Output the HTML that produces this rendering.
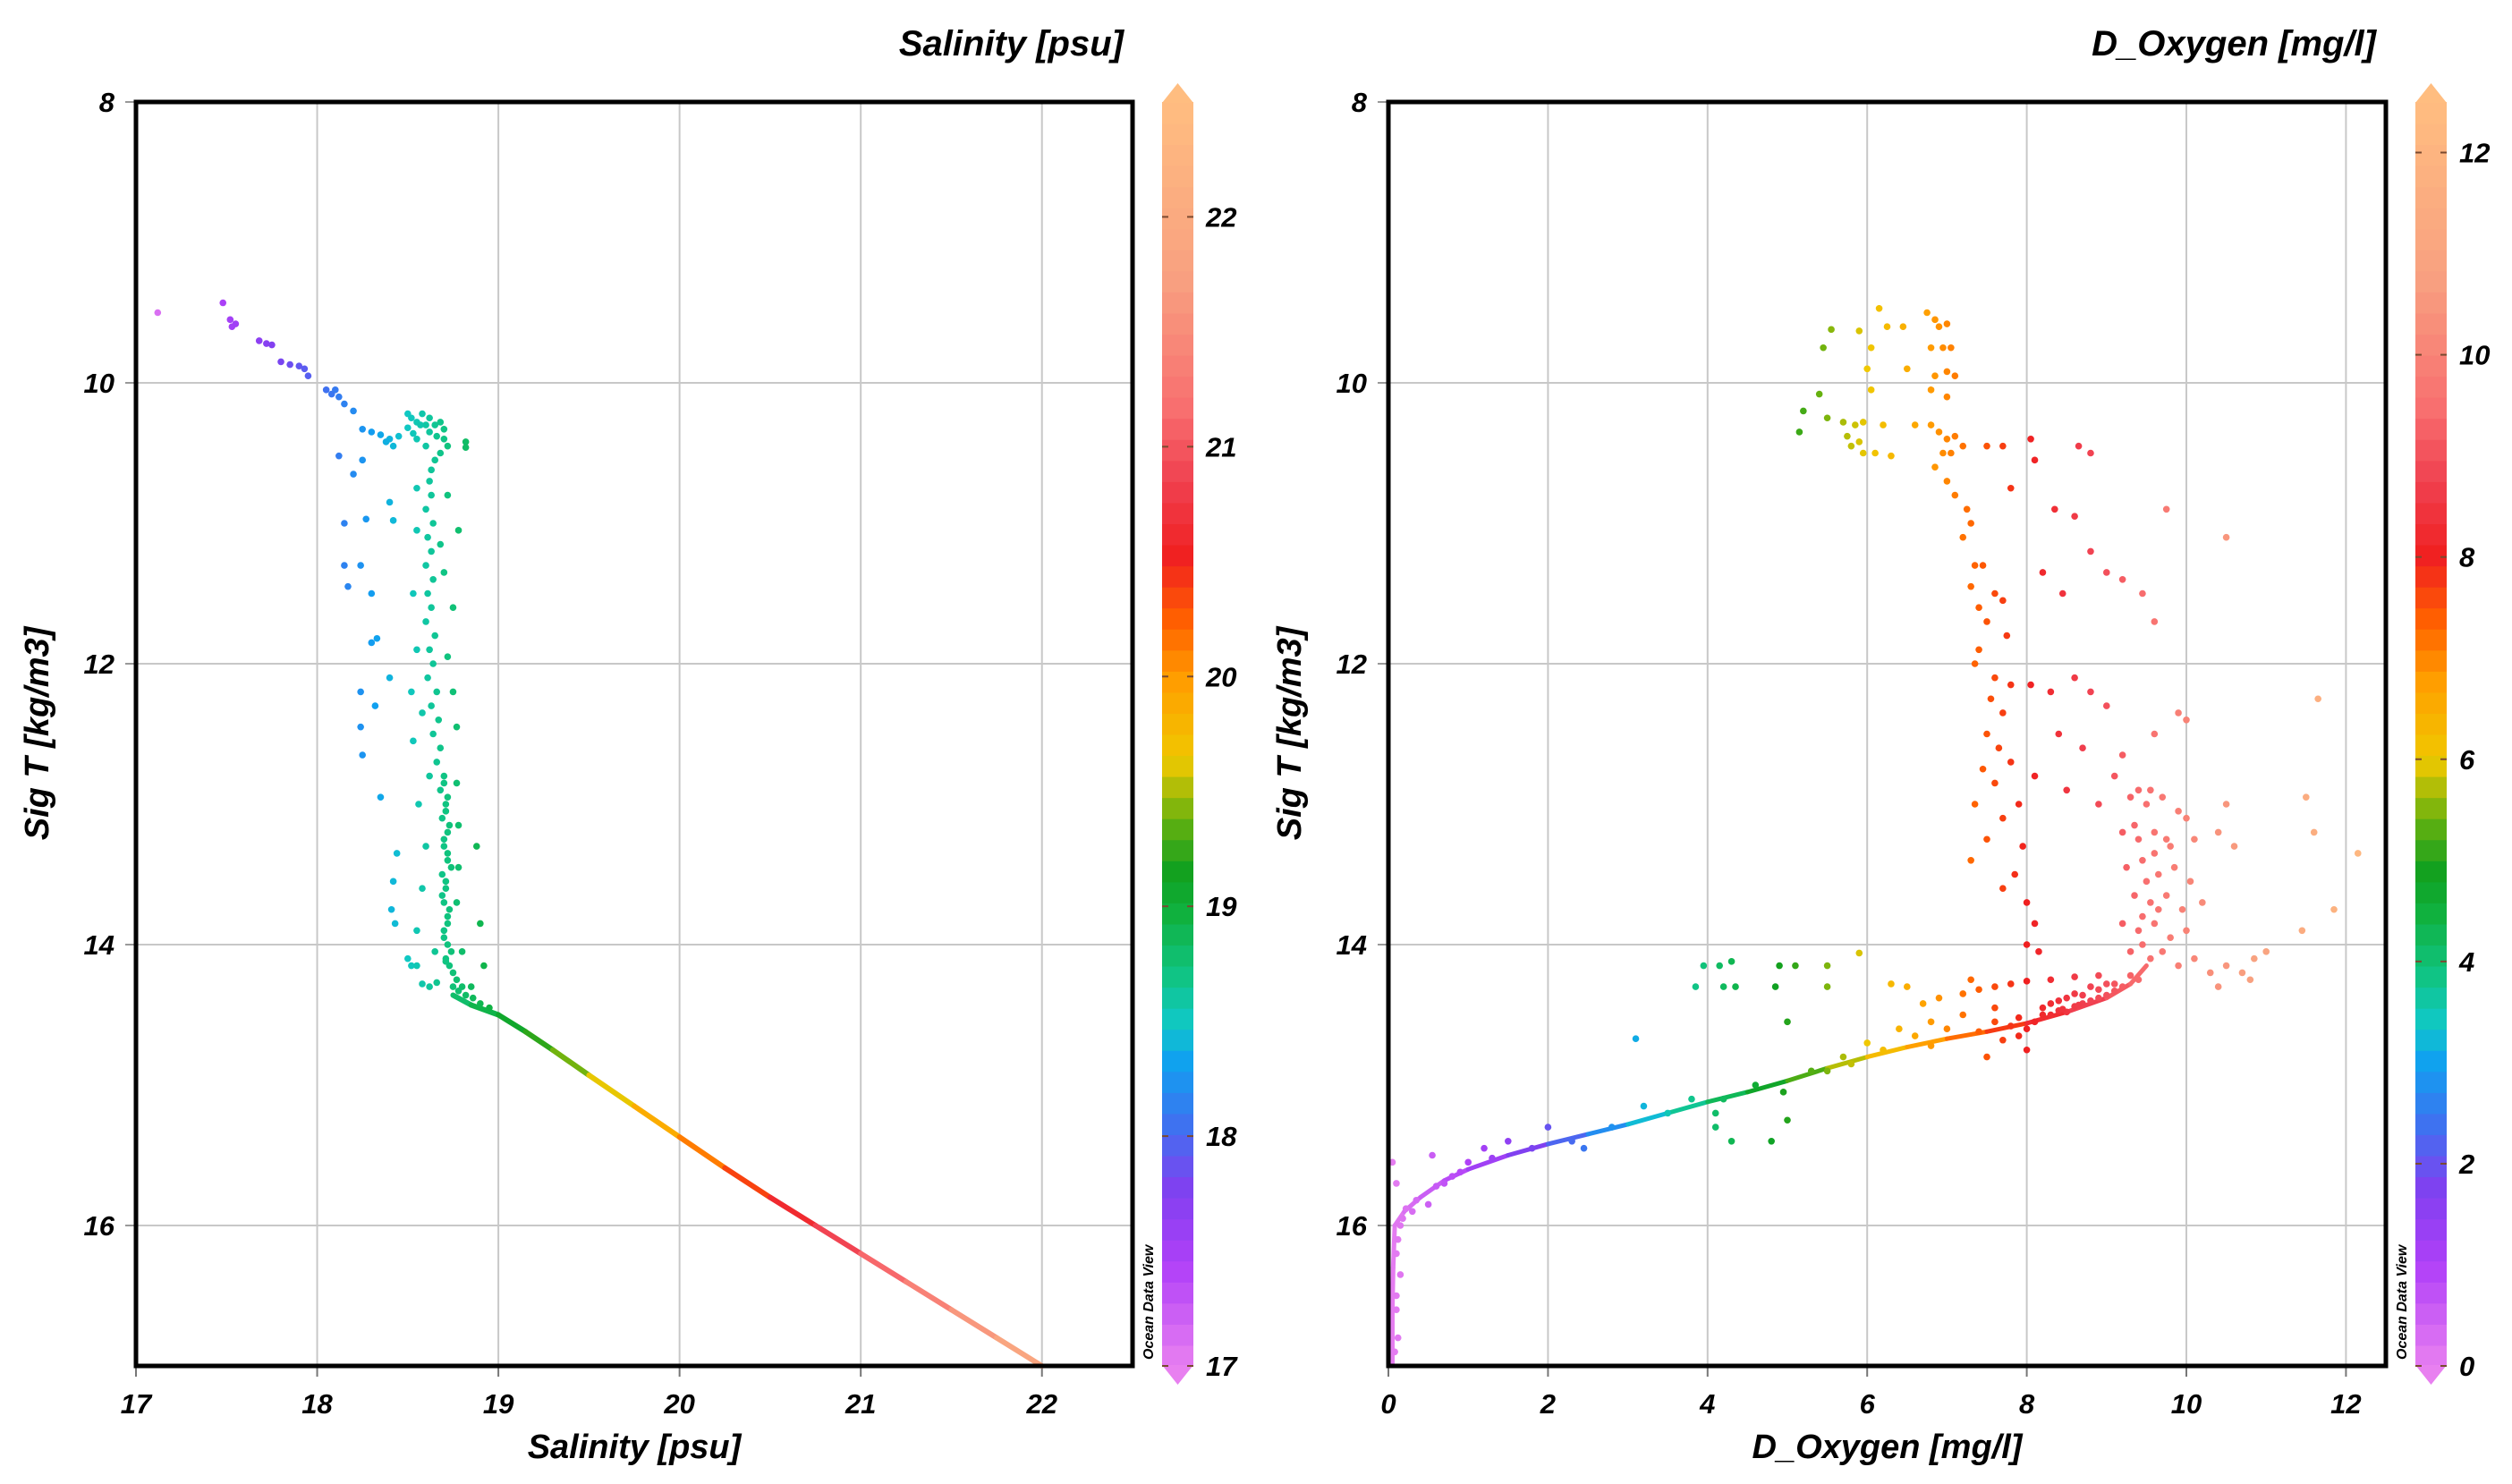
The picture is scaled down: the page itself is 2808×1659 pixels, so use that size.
<!DOCTYPE html>
<html><head><meta charset="utf-8">
<style>
html,body{margin:0;padding:0;background:#fff;}
svg{display:block;font-family:"Liberation Sans",Arial,sans-serif;font-weight:bold;font-style:italic;}
</style></head>
<body>
<svg id="chart" width="2808" height="1659" viewBox="0 0 2808 1659" xmlns="http://www.w3.org/2000/svg">
<g id="left"></g>
<g id="right"></g>
</svg>
<script>
// ---------- data ----------
const salX = [17.12,17.48,17.52,17.53,17.55,17.68,17.72,17.75,17.8,17.85,17.9,17.93,17.95,18.05,18.08,18.1,18.12,18.15,18.2,18.25,18.3,18.35,18.4,18.42,18.45,18.38,
18.12,18.25,18.2,18.4,18.15,18.27,18.42,18.15,18.24,18.17,18.3,18.3,18.33,18.4,18.24,18.32,18.24,18.25,18.35,18.44,18.42,18.41,18.43,18.5,18.52,18.55,
18.5,18.52,18.55,18.58,18.6,18.62,18.65,18.68,18.7,18.5,18.53,18.57,18.62,18.66,18.7,18.72,18.68,18.65,18.63,18.62,18.82,18.82,18.55,18.6,
18.63,18.6,18.64,18.61,18.63,18.6,18.64,18.61,18.63,18.6,18.65,18.62,18.64,18.61,18.66,18.63,18.67,18.64,18.68,18.66,18.7,18.68,18.71,18.69,18.72,18.7,18.72,18.69,18.71,18.7,18.72,18.7,18.72,18.71,18.73,18.75,18.77,18.8,
18.55,18.72,18.55,18.68,18.78,18.53,18.7,18.75,18.55,18.72,18.52,18.75,18.58,18.77,18.53,18.62,18.77,18.56,18.78,18.6,18.78,18.88,18.58,18.77,18.9,18.55,18.65,18.58,18.62,18.66,18.8,18.92,18.85,
18.7,18.72,18.71,18.73,18.7,18.72,18.74,18.71,18.69,18.73,18.72,18.7,18.74,18.71,18.75,18.78,18.82,18.86,18.9,18.95];
const salY = [9.5,9.43,9.55,9.6,9.58,9.7,9.72,9.73,9.85,9.87,9.88,9.9,9.95,10.05,10.08,10.05,10.1,10.15,10.2,10.33,10.35,10.37,10.4,10.45,10.38,10.42,
10.52,10.55,10.65,10.85,11.0,10.97,10.98,11.3,11.3,11.45,11.5,11.85,11.82,12.1,12.2,12.3,12.45,12.65,12.95,13.35,13.55,13.75,13.85,14.1,14.15,14.15,
10.22,10.25,10.28,10.22,10.3,10.25,10.3,10.28,10.33,10.32,10.36,10.3,10.35,10.38,10.4,10.45,10.5,10.55,10.62,10.7,10.42,10.46,10.4,10.45,
10.8,10.9,11.0,11.1,11.2,11.3,11.4,11.5,11.6,11.7,11.8,11.9,12.0,12.1,12.2,12.3,12.4,12.5,12.6,12.7,12.8,12.9,13.0,13.1,13.2,13.3,13.4,13.5,13.6,13.7,13.8,13.9,14.0,14.1,14.15,14.2,14.25,14.3,
10.75,10.8,11.05,11.15,11.05,11.5,11.35,11.6,11.9,11.95,12.2,12.2,12.35,12.45,12.55,12.8,12.85,13.0,13.15,13.3,13.45,13.3,13.6,13.7,13.85,13.9,14.05,14.28,14.3,14.27,14.05,14.15,14.3,
12.85,12.95,13.05,13.15,13.25,13.35,13.45,13.55,13.65,13.75,13.85,13.95,14.05,14.12,14.3,14.33,14.36,14.38,14.42,14.45];
// deep linear profile (drawn as connected segment)
const salLineX = [18.75,18.85,19.0,19.15,19.3,19.5,19.75,20.0,20.25,20.5,20.75,21.0,21.25,21.5,21.75,22.0];
const salLineY = [14.36,14.43,14.5,14.62,14.75,14.93,15.15,15.37,15.59,15.8,16.0,16.2,16.4,16.6,16.8,17.0];

const oxyX = [5.55,5.9,6.15,6.25,6.45,6.75,6.85,6.9,7.0,5.45,6.05,6.8,6.95,7.05,6.0,6.5,6.85,7.0,7.1,5.4,6.05,6.8,7.0,5.2,5.5,5.7,5.85,5.95,6.2,5.75,5.9,5.95,5.8,6.1,6.3,5.15,6.6,6.8,6.9,7.0,7.1,7.2,6.95,7.05,6.85,7.0,7.1,7.25,7.3,7.2,7.35,7.45,7.3,7.4,
7.6,7.7,7.5,7.75,7.4,7.35,7.6,7.8,7.55,7.7,7.5,7.65,7.45,7.8,7.6,7.35,7.7,7.5,7.9,7.95,7.3,7.85,7.7,8.0,8.1,8.0,8.15,
7.5,7.7,8.05,8.1,8.65,8.8,7.8,8.35,8.6,8.2,8.8,8.45,9.0,9.2,9.45,9.6,8.05,8.3,8.6,8.8,9.0,9.6,9.9,10.0,8.4,8.7,9.2,8.1,8.5,8.9,9.1,9.4,
9.3,9.5,9.7,9.9,10.0,9.2,9.4,9.6,9.8,10.1,9.25,9.45,9.65,9.85,10.05,9.35,9.55,9.75,9.95,10.2,9.2,9.4,9.6,9.8,10.0,9.3,9.45,9.55,9.7,9.9,10.1,10.3,10.5,10.7,10.85,11.0,10.8,10.4,9.5,9.6,9.35,9.65,9.45,9.75,9.55,10.4,10.6,10.5,11.5,11.6,11.85,11.45,12.15,11.65,10.5,9.75,
8.2,8.4,8.6,8.8,9.0,8.3,8.5,8.7,8.9,9.1,8.1,7.8,7.6,7.4,7.9,8.0,7.7,7.2,7.4,7.6,7.8,8.0,8.3,8.6,8.9,6.9,6.7,6.5,6.3,7.3,7.0,6.6,6.8,7.5,8.0,
3.85,3.95,4.15,4.3,4.2,4.35,4.85,4.9,5.1,5.5,5.9,5.5,5.0,3.1,4.1,4.1,4.3,4.8,5.0,4.95,3.5,3.2,2.45,2.0,1.5,1.2,0.55,0.7,0.3,0.5,0.15,0.1,0.1,0.12,0.08,0.1,0.05,6.0,5.7,5.3,4.6,4.2,3.8,2.8,2.3,1.8,1.0,0.8,6.4,6.8,7.2,7.6,6.2,5.8,5.5,
8.3,8.5,8.7,8.9,9.1,9.3,8.4,8.6,8.8,9.0,9.2,9.4,7.9,8.2,8.45,8.65,0.12,0.15,0.1,0.18,0.22,0.35,0.6,0.9,1.3];
const oxyY = [9.62,9.63,9.47,9.6,9.6,9.5,9.55,9.6,9.58,9.75,9.75,9.75,9.75,9.75,9.9,9.9,9.95,9.92,9.95,10.08,10.05,10.05,10.1,10.2,10.25,10.28,10.3,10.28,10.3,10.38,10.42,10.5,10.45,10.5,10.52,10.35,10.3,10.3,10.35,10.4,10.38,10.45,10.5,10.5,10.6,10.7,10.8,10.9,11.0,11.1,11.3,11.3,11.45,11.6,
11.5,11.55,11.7,11.8,11.9,12.0,12.1,12.15,12.25,12.35,12.5,12.6,12.75,12.7,12.85,13.0,13.1,13.25,13.0,13.3,13.4,13.5,13.6,13.7,13.85,14.0,14.05,
10.45,10.45,10.4,10.55,10.45,10.5,10.75,10.9,10.95,11.35,11.2,11.5,11.35,11.4,11.5,11.7,12.15,12.2,12.1,12.2,12.3,12.5,12.35,12.4,12.5,12.6,12.65,12.8,12.9,13.0,12.8,12.9,
12.95,13.0,12.95,13.05,13.1,13.2,13.25,13.2,13.3,13.25,13.45,13.4,13.5,13.45,13.55,13.65,13.7,13.65,13.75,13.7,13.85,13.9,13.85,13.95,13.9,14.05,14.0,14.1,14.05,14.15,14.1,14.2,14.15,14.2,14.1,14.05,14.25,14.3,13.55,13.35,13.15,13.75,13.8,13.25,12.9,13.2,13.3,13.0,12.95,13.2,13.75,13.9,13.35,12.25,11.1,10.9,
14.45,14.4,14.35,14.3,14.28,14.5,14.48,14.42,14.38,14.33,14.55,14.58,14.55,14.62,14.65,14.6,14.68,14.35,14.32,14.3,14.28,14.26,14.25,14.23,14.22,14.38,14.42,14.3,14.28,14.25,14.6,14.65,14.72,14.8,14.75,
14.3,14.15,14.15,14.12,14.3,14.3,14.3,14.15,14.15,14.15,14.06,14.3,14.55,14.67,15.2,15.3,15.4,15.4,15.25,15.05,15.2,15.15,15.45,15.3,15.4,15.45,15.5,15.7,15.9,15.85,16.0,16.2,16.5,16.8,16.9,15.7,15.55,14.7,14.8,14.9,15.0,15.1,15.1,15.3,15.4,15.45,15.55,15.65,14.6,14.55,14.5,14.45,14.75,14.85,14.9,
14.42,14.38,14.36,14.32,14.28,14.22,14.47,14.44,14.4,14.36,14.3,14.25,14.52,14.5,14.46,14.43,16.1,16.35,16.6,15.95,15.88,15.82,15.72,15.62,15.52];
const oxyLineX = [0.05,0.05,0.06,0.08,0.2,0.4,0.7,1.0,1.5,2.0,2.5,3.0,3.5,4.0,4.5,5.0,5.5,6.0,6.5,7.0,7.5,8.0,8.5,9.0,9.3,9.5];
const oxyLineY = [17.0,16.6,16.3,16.0,15.9,15.8,15.68,15.6,15.5,15.42,15.35,15.28,15.2,15.12,15.05,14.97,14.88,14.8,14.73,14.67,14.62,14.56,14.48,14.38,14.28,14.15];

const yTicks = [8,10,12,14,16];
const salTicks = [17,18,19,20,21,22];
const oxyTicks = [0,2,4,6,8,10,12];
const salCbTicks = [17,18,19,20,21,22];
const oxyCbTicks = [0,2,4,6,8,10,12];

// ---------- helpers ----------
const NS="http://www.w3.org/2000/svg";
const stops=[[0,[232,128,240]],[0.08,[176,64,248]],[0.14,[128,64,240]],[0.19,[64,112,240]],[0.24,[16,160,240]],[0.27,[16,200,200]],[0.31,[16,196,130]],[0.36,[16,176,60]],[0.39,[16,160,32]],[0.43,[96,176,16]],[0.48,[240,200,0]],[0.54,[255,160,0]],[0.59,[255,96,0]],[0.64,[240,32,32]],[0.70,[240,64,80]],[0.76,[248,112,112]],[0.86,[248,160,128]],[1,[255,189,128]]];
function cmap(t){t=Math.max(0,Math.min(1,t));for(let i=1;i<stops.length;i++){if(t<=stops[i][0]){const a=stops[i-1],b=stops[i];const f=(t-a[0])/(b[0]-a[0]);const c=a[1].map((v,k)=>Math.round(v+(b[1][k]-v)*f));return `rgb(${c[0]},${c[1]},${c[2]})`;}}return 'rgb(255,189,128)';}
function mk(parent,tag,attrs,text){const e=document.createElementNS(NS,tag);for(const k in attrs)e.setAttribute(k,attrs[k]);if(text!==undefined)e.textContent=text;parent.appendChild(e);return e;}

function panel(g,cfg){
  const L=cfg.L,R=cfg.R,T=114,B=1527;
  const sx=v=>L+(v-cfg.xmin)/(cfg.xmax-cfg.xmin)*(R-L);
  const sy=v=>T+(v-8)/(17-8)*(B-T);
  const col=v=>cmap((v-cfg.cmin)/(cfg.cmax-cfg.cmin));
  yTicks.forEach(v=>{ if(v>8){const l=mk(g,'line',{x1:L,x2:R,y1:sy(v),y2:sy(v),stroke:'#c8c8c8','stroke-width':2});
    
    }
    const t=mk(g,'text',{x:L-24,y:sy(v)+11,'text-anchor':'end','font-size':31},String(v));
    
    
    mk(g,'line',{x1:L-12,x2:L,y1:sy(v),y2:sy(v),stroke:'#999','stroke-width':2});
  });
  cfg.xticks.forEach(v=>{ if(v>cfg.xmin){const l=mk(g,'line',{x1:sx(v),x2:sx(v),y1:T,y2:B,stroke:'#c8c8c8','stroke-width':2});
    
    }
    mk(g,'line',{x1:sx(v),x2:sx(v),y1:B,y2:B+12,stroke:'#777','stroke-width':2});
    const t=mk(g,'text',{x:sx(v),y:1580,'text-anchor':'middle','font-size':31},String(v));
    
    
  });
  for(let i=1;i<cfg.lx.length;i++){
    const s=mk(g,'line',{x1:sx(cfg.lx[i-1]),y1:sy(cfg.ly[i-1]),x2:sx(cfg.lx[i]),y2:sy(cfg.ly[i]),stroke:col((cfg.lx[i-1]+cfg.lx[i])/2),'stroke-width':cfg.lw,'stroke-linecap':'round'});
    
    
  }
  for(let i=0;i<cfg.px.length;i++){
    const c=mk(g,'circle',{cx:sx(cfg.px[i]),cy:sy(cfg.py[i]),r:3.8,fill:col(cfg.px[i])});
    
    
  }
  const f=mk(g,'rect',{x:L,y:T,width:R-L,height:B-T,fill:'none',stroke:'#000','stroke-width':5});
  
  
  const xt=mk(g,'text',{x:(L+R)/2,y:1630,'text-anchor':'middle','font-size':38},cfg.xlabel);
  
  
  const yt=mk(g,'text',{x:0,y:0,'text-anchor':'middle','font-size':38,transform:`translate(${L-98},820) rotate(-90)`},'Sig T [kg/m3]');
  
  
  const tt=mk(g,'text',{x:cfg.titleR,y:62,'text-anchor':'end','font-size':40},cfg.xlabel);
  
  
  const cx=cfg.cbx,cw=35;
  const cb=mk(g,'g',{});
  
  
  const n=60;
  for(let i=0;i<n;i++){const y0=B-(B-T)*(i+1)/n;mk(cb,'rect',{x:cx,y:y0,width:cw,height:(B-T)/n+1,fill:cmap((i+0.5)/n)});}
  mk(cb,'polygon',{points:`${cx},${T+1} ${cx+cw/2},${T-21} ${cx+cw},${T+1}`,fill:cmap(1)});
  mk(cb,'polygon',{points:`${cx},${B-1} ${cx+cw/2},${B+21} ${cx+cw},${B-1}`,fill:cmap(0)});
  cfg.cbticks.forEach(v=>{const y=B-(v-cfg.cmin)/(cfg.cmax-cfg.cmin)*(B-T);
    mk(cb,'line',{x1:cx,x2:cx+7,y1:y,y2:y,stroke:'#7a4a30','stroke-width':2});
    mk(cb,'line',{x1:cx+cw-7,x2:cx+cw,y1:y,y2:y,stroke:'#7a4a30','stroke-width':2});
    const t=mk(g,'text',{x:cx+cw+14,y:y+11,'font-size':31},String(v));
    
    
  });
  const odv=mk(g,'text',{x:0,y:0,'font-size':16,'font-style':'italic',transform:`translate(${cx-10},1520) rotate(-90)`},'Ocean Data View');
  
  
}

panel(document.getElementById('left'),{L:152,R:1266,xmin:17,xmax:22.5,xticks:salTicks,cmin:17,cmax:22.5,cbticks:salCbTicks,cbx:1299,titleR:1256,xlabel:'Salinity [psu]',px:salX,py:salY,lx:salLineX,ly:salLineY,lw:6});
panel(document.getElementById('right'),{L:1552,R:2667,xmin:0,xmax:12.5,xticks:oxyTicks,cmin:0,cmax:12.5,cbticks:oxyCbTicks,cbx:2700,titleR:2656,xlabel:'D_Oxygen [mg/l]',px:oxyX,py:oxyY,lx:oxyLineX,ly:oxyLineY,lw:5});
</script>
</body></html>
